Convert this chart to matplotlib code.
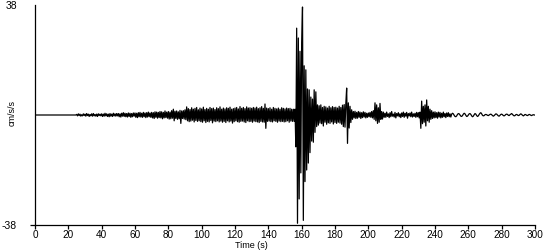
import numpy as np
import matplotlib
matplotlib.use("Agg")
import matplotlib.pyplot as plt

plt.rcParams['font.family'] = ['Liberation Sans', 'DejaVu Sans']

# sampling step of the trace (s)
dt = 0.5

# acceleration values (cm/s/s), one value per 0.5 s
accel_0_50 = [
    0, 0, 0, 0, 0, 0, 0, 0, 0, 0, 0, 0, 0, 0, 0, 0, 0, 0, 0, 0,
    0, 0, 0, 0, 0, 0, 0, 0, 0, 0, 0, 0, 0, 0, 0, 0, 0, 0, 0, 0,
    0, 0, 0, 0, 0, 0, 0, 0, 0, 0, 0.2, -0.3, 0.4, -0.2, 0.3, -0.4, 0.1, -0.3, 0.4, -0.2,
    0.3, -0.4, 0.5, -0.2, 0.3, -0.5, 0.2, -0.3, 0.4, -0.4, 0.5, -0.3, 0.2, -0.4, 0.3, -0.5, 0.4, -0.2, 0.3, -0.3,
    0.4, -0.5, 0.3, -0.4, 0.6, -0.3, 0.4, -0.5, 0.3, -0.6, 0.5, -0.4, 0.3, -0.5, 0.6, -0.3, 0.4, -0.4, 0.5, -0.3,
]
accel_50_100 = [
    0.5, -0.6, 0.4, -0.7, 0.6, -0.4, 0.8, -0.5, 0.6, -0.6, 0.5, -0.7, 0.7, -0.5, 0.6, -0.8, 0.5, -0.6, 0.7, -0.4,
    0.7, -0.8, 0.6, -0.9, 0.8, -0.6, 0.9, -0.7, 0.6, -0.8, 0.9, -0.6, 0.7, -0.9, 0.8, -0.7, 1.0, -0.6, 0.7, -0.8,
    0.9, -1.0, 0.8, -1.2, 1.1, -0.8, 1.0, -1.1, 0.9, -0.9, 1.2, -1.0, 1.1, -1.3, 0.9, -1.0, 1.4, -0.9, 1.0, -1.1,
    1.2, -1.4, 1.0, -1.3, 1.5, -1.1, 2.0, -2.0, 1.3, -1.2, 1.4, -1.5, 1.1, -1.3, 1.6, -2.9, 1.4, -1.2, 1.5, -1.4,
    1.8, -1.6, 2.8, -2.0, 2.2, -2.3, 1.9, -2.1, 2.5, -1.8, 2.0, -2.4, 2.3, -1.9, 2.6, -2.2, 1.8, -2.0, 2.4, -2.3,
]
accel_100_150 = [
    2.1, -2.5, 2.7, -2.0, 1.9, -2.6, 2.3, -2.2, 2.0, -2.4, 2.6, -1.9, 2.2, -2.7, 2.4, -2.1, 1.9, -2.3, 2.5, -2.0,
    2.2, -2.4, 2.8, -2.1, 2.0, -2.5, 2.4, -2.2, 2.1, -2.6, 2.5, -2.0, 2.3, -2.4, 2.7, -2.1, 2.0, -2.8, 2.2, -2.3,
    2.4, -2.0, 2.6, -2.3, 2.1, -2.5, 2.9, -2.2, 2.3, -2.1, 2.6, -2.4, 2.2, -2.6, 2.8, -2.0, 2.4, -2.3, 2.5, -2.2,
    2.3, -2.5, 2.6, -2.1, 2.4, -2.3, 2.7, -2.4, 2.2, -2.6, 2.5, -2.2, 2.9, -2.4, 2.3, -2.5, 3.8, -4.6, 2.4, -2.2,
    2.2, -2.1, 2.5, -2.3, 2.0, -2.4, 2.6, -2.0, 2.3, -2.2, 2.1, -2.5, 2.4, -2.1, 2.0, -2.3, 2.5, -2.2, 2.3, -2.4,
]
accel_150_200 = [
    2.1, -2.3, 2.4, -2.0, 2.2, -2.5, 2.3, -2.1, 2.0, -2.2, 2.0, -2.2, 2.0, -11.0, 30.0, -37.4, 26.6, -29.0, 22.0, -20.0,
    25.0, 37.3, -36.4, 17.0, -23.0, 15.6, -19.0, 9.0, -16.6, 8.7, -13.0, 6.2, -9.0, 5.5, -9.4, 8.7, -6.0, 8.0, -4.0, 3.5,
    -3.5, 3.2, -2.8, 3.5, -3.0, 2.6, -3.8, 3.0, -2.5, 2.8, -3.2, 2.4, -2.7, 3.0, -2.9, 2.5, -2.4, 2.9, -3.1, 2.6,
    -2.6, 2.7, -2.9, 2.4, -2.5, 3.0, -2.8, 2.6, -3.2, 3.4, -4.0, 3.6, -4.2, 4.0, 9.3, -9.8, 4.2, -4.5, 3.0, -2.6,
    1.8, -1.5, 1.2, -1.0, 1.3, -1.2, 0.9, -1.1, 1.2, -0.8, 1.0, -1.2, 0.8, -0.9, 1.1, -0.7, 0.9, -1.0, 0.6, -0.8,
]
accel_200_250 = [
    0.7, -0.6, 0.9, -0.8, 1.2, -1.0, 1.5, -1.5, 4.2, -2.0, 3.5, -2.9, 2.5, -2.5, 4.0, -1.5, 1.2, -1.4, 1.0, -0.8,
    0.6, -0.8, 1.0, -0.5, 0.4, -0.9, 0.8, -0.6, 1.2, -0.4, 0.3, -0.7, 0.9, -1.0, 0.5, -0.3, 0.8, -0.6, 0.4, -0.9,
    0.7, -0.5, 1.0, -0.8, 0.6, -0.4, 0.9, -1.1, 0.5, -0.3, 0.7, -0.6, 1.0, -0.7, 0.4, -0.5, 0.6, -0.8, 0.9, -0.6,
    0.8, -1.0, 1.0, -4.6, 4.8, -3.0, 3.0, -2.5, 3.5, -3.8, 5.2, -2.0, 3.0, -2.5, 2.0, -1.5, 1.5, -1.2, 1.0, -1.0,
    1.1, -0.9, 0.8, -1.1, 1.0, -0.7, 0.9, -1.0, 0.6, -0.8, 1.0, -0.6, 0.5, -0.9, 0.7, -0.5, 0.8, -0.6, 0.4, -0.7,
]
accel_250_300 = [
    0.3, 0.6, 0.4, -0.1, -0.5, -0.6, -0.3, 0.2, 0.5, 0.4, 0.0, -0.4, -0.5, -0.2, 0.3, 0.6, 0.4, -0.1, -0.5, -0.4,
    0.0, 0.4, 0.5, 0.2, -0.3, -0.6, -0.4, 0.1, 0.5, 0.3, -0.2, -0.5, -0.3, 0.2, 0.6, 0.8, 0.4, -0.1, -0.3, -0.2,
    0.1, 0.2, 0.1, -0.1, -0.2, 0.0, 0.2, 0.3, 0.1, -0.2, -0.4, -0.2, 0.1, 0.4, 0.3, 0.0, -0.3, -0.4, -0.1, 0.2,
    0.3, 0.1, -0.2, -0.3, -0.1, 0.2, 0.3, 0.2, -0.1, -0.2, 0.1, 0.3, 0.5, 0.2, -0.1, -0.3, -0.2, 0.1, 0.2, 0.0,
    -0.2, -0.1, 0.2, 0.4, 0.2, -0.1, -0.3, -0.1, 0.2, 0.1, -0.1, -0.2, 0.0, 0.2, 0.1, -0.1, -0.2, 0.0, 0.1, 0.0,
    0.0,
]

accel = np.array(accel_0_50 + accel_50_100 + accel_100_150 +
                 accel_150_200 + accel_200_250 + accel_250_300)
time = np.arange(len(accel)) * dt

x_ticks = list(range(0, 301, 20))
y_limit = 38
y_label = "cm/s/s"
x_label = "Time (s)"

fig = plt.figure(figsize=(5.5, 2.5), dpi=100)
ax = fig.add_axes([35/550, 1 - 225/250, 500/550, 220/250])

ax.plot(time, accel, color='black', linewidth=0.9)

ax.set_xlim(0, 300)
ax.set_ylim(-y_limit, y_limit)
ax.set_xticks(x_ticks)
ax.set_xticklabels([str(v) for v in x_ticks])
ax.set_yticks([-y_limit, y_limit])
ax.set_yticklabels([str(-y_limit), str(y_limit)])

for side in ['top', 'right']:
    ax.spines[side].set_visible(False)
for side in ['left', 'bottom']:
    ax.spines[side].set_linewidth(0.9)
    ax.spines[side].set_color('black')

ax.tick_params(axis='x', length=3.0, width=0.9, pad=0.8, labelsize=7.2, colors='black')
ax.tick_params(axis='y', length=3.6, width=0.9, pad=9.4, labelsize=7.5, colors='black')
# no tick mark at the top label
ax.yaxis.get_major_ticks()[1].tick1line.set_visible(False)

fig.text(12.5/550, 1 - 113/250, y_label, rotation=90, fontsize=6.5,
         ha='center', va='center')
fig.text(251/550, 0.0, x_label, fontsize=6.5, ha='center', va='bottom')

fig.savefig("out.png", dpi=100, facecolor='white')
